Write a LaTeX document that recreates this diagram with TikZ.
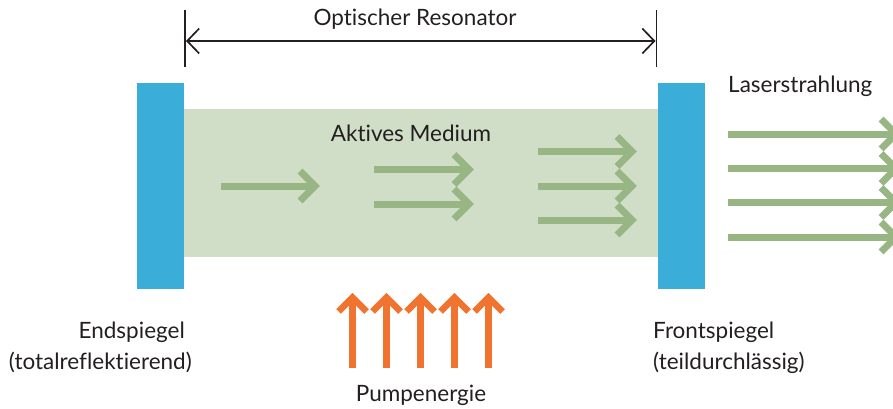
\documentclass[tikz,border=0pt]{standalone}
\usepackage{fontspec}
\setmainfont{Lato}[Ligatures=NoCommon]
\usetikzlibrary{arrows.meta}
\definecolor{mirrorblue}{HTML}{3AAED8}
\definecolor{mediumgreen}{HTML}{D0DDC7}
\definecolor{beamgreen}{HTML}{97B683}
\definecolor{pumporange}{HTML}{F07330}
\definecolor{txt}{HTML}{231F20}
\newcommand{\BeamArrow}[3]{%
  \draw[beam] (#1,#3) -- (#2,#3);
  \draw[beam,line join=miter] ({#2-15},{#3-15}) -- (#2,#3) -- ({#2-15},{#3+15});
}
\newcommand{\PumpArrow}[3]{%
  \draw[pump] (#1,#2) -- (#1,#3);
  \draw[pump,line join=miter] ({#1-14},{#3+14}) -- (#1,#3) -- ({#1+14},{#3+14});
}
\begin{document}
\begin{tikzpicture}[x=1pt,y=-1pt,
  lbl/.style={text=txt,inner sep=0pt,font=\fontsize{22.5}{27}\selectfont},
  beam/.style={draw=beamgreen,line width=7pt},
  pump/.style={draw=pumporange,line width=6.5pt},
  dim/.style={draw=txt,line width=1.7pt}]
\useasboundingbox (0,0) rectangle (893,409);
% medium and mirrors
\fill[mediumgreen] (184,109) rectangle (658,257);
\node[fill=mirrorblue,inner sep=0pt,minimum width=47pt,minimum height=206pt,anchor=north west] (endm) at (137,83) {};
\node[fill=mirrorblue,inner sep=0pt,minimum width=47pt,minimum height=206pt,anchor=north west] (frontm) at (658,83) {};
% resonator dimension
\coordinate (dl1) at (185,10); \coordinate (dl2) at (185,67);
\coordinate (dr1) at (656.5,10); \coordinate (dr2) at (656.5,67);
\coordinate (al) at (186,41); \coordinate (ar) at (655.5,41);
\draw[dim] (dl1) -- (dl2);
\draw[dim] (dr1) -- (dr2);
\draw[dim,{Straight Barb[length=12pt,width=25pt]}-{Straight Barb[length=12pt,width=25pt]}] (al) -- (ar);
% labels
\node[lbl,anchor=base] (reso) at (415,26) {Optischer Resonator};
\node[lbl,anchor=base] (akt) at (411,141.5) {Aktives Medium};
\node[lbl,anchor=base west] (laser) at (728,93) {Laserstrahlung};
\node[lbl,anchor=base east] (end1) at (185,338) {Endspiegel};
\node[lbl,anchor=base east] (end2) at (192,369) {(totalreflektierend)};
\node[lbl,anchor=base west] (fr1) at (653,338) {Frontspiegel};
\node[lbl,anchor=base west] (fr2) at (653,369) {(teildurchlässig)};
\node[lbl,anchor=base] (pump) at (421,401.5) {Pumpenergie};
% beams inside
\BeamArrow{220.5}{315}{186}
\BeamArrow{374}{469}{169.5}
\BeamArrow{374}{469}{204}
\BeamArrow{537.5}{632}{151.5}
\BeamArrow{537.5}{632}{186}
\BeamArrow{537.5}{632}{220}
% beams outside
\BeamArrow{727.5}{896}{134}
\BeamArrow{727.5}{896}{168.5}
\BeamArrow{727.5}{896}{202.5}
\BeamArrow{727.5}{896}{237}
% pump arrows
\PumpArrow{352.5}{368}{297.5}
\PumpArrow{386.5}{368}{297.5}
\PumpArrow{420.5}{368}{297.5}
\PumpArrow{454.5}{368}{297.5}
\PumpArrow{488.5}{368}{297.5}
\end{tikzpicture}
\end{document}
